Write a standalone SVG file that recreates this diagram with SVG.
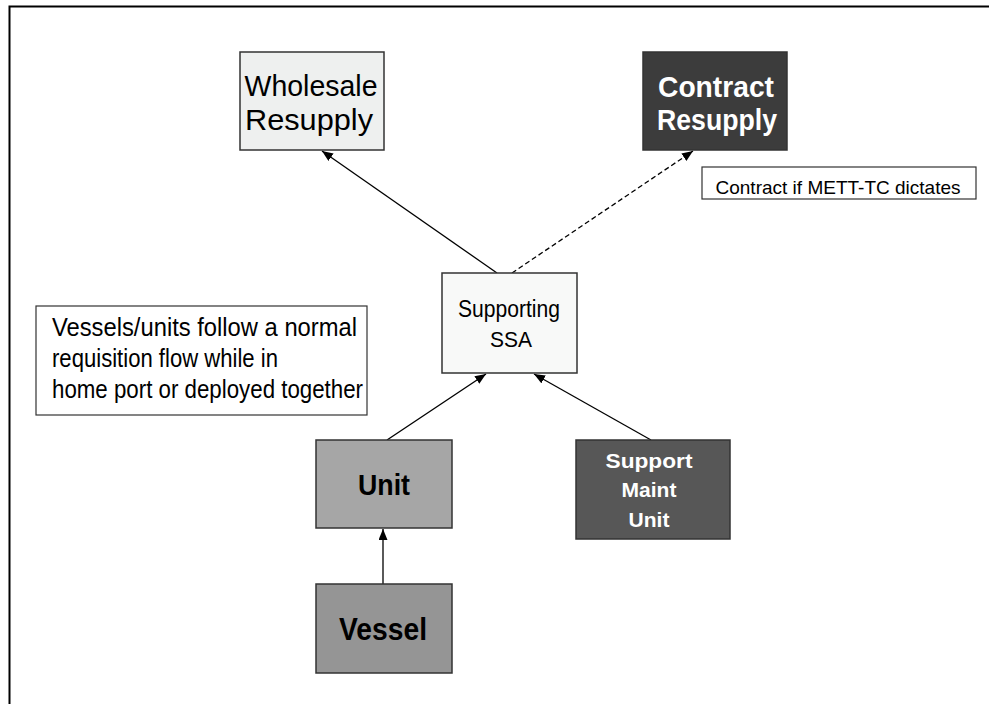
<svg xmlns="http://www.w3.org/2000/svg" width="989" height="704" viewBox="0 0 989 704">
<defs>
<style>
text{font-family:"Liberation Sans",Arial,sans-serif;text-anchor:middle}
.box{stroke:#333;stroke-width:1.5}
.b{font-weight:bold}
.w{fill:#fff}
.k{fill:#000}
.c{stroke:#000;stroke-width:1.3;fill:none}
.l{text-anchor:start}
</style>
<marker id="ah" markerUnits="userSpaceOnUse" markerWidth="12" markerHeight="10" refX="11" refY="4.5" orient="auto">
<path d="M0,0 L11,4.5 L0,9 z" fill="#000"/>
</marker>
</defs>
<rect width="989" height="704" fill="#fff"/>
<path d="M9.5,704 V6.5 H989" fill="none" stroke="#000" stroke-width="2"/>

<g id="connectors">
<line class="c" x1="497" y1="273" x2="322" y2="151" marker-end="url(#ah)"/>
<line class="c" x1="512" y1="273" x2="693" y2="151" stroke-dasharray="5,3" marker-end="url(#ah)"/>
<line class="c" x1="387" y1="440" x2="486" y2="374" marker-end="url(#ah)"/>
<line class="c" x1="651" y1="440" x2="534" y2="374" marker-end="url(#ah)"/>
<line class="c" x1="383" y1="584" x2="383" y2="529" stroke="#444" marker-end="url(#ah)"/>
</g>

<g id="wholesale">
<rect class="box" x="240" y="52" width="144" height="98" fill="#eef0ef"/>
<text x="311" y="96" font-size="30" textLength="133" lengthAdjust="spacingAndGlyphs" class="k">Wholesale</text>
<text x="309" y="130" font-size="30" textLength="128" lengthAdjust="spacingAndGlyphs" class="k">Resupply</text>
</g>

<g id="contract">
<rect class="box" x="643" y="52" width="144" height="98" fill="#3c3c3c"/>
<text x="716" y="97" font-size="30" textLength="116" lengthAdjust="spacingAndGlyphs" class="b w">Contract</text>
<text x="717" y="130" font-size="30" textLength="120" lengthAdjust="spacingAndGlyphs" class="b w">Resupply</text>
</g>

<g id="contract-note">
<rect x="702" y="167" width="274" height="32" fill="#fff" stroke="#333" stroke-width="1.2"/>
<text x="838" y="194" font-size="19" textLength="245" lengthAdjust="spacingAndGlyphs" class="k">Contract if METT-TC dictates</text>
</g>

<g id="ssa">
<rect class="box" x="442" y="273" width="135" height="100" fill="#f8f9f8"/>
<text x="509" y="317" font-size="23" textLength="102" lengthAdjust="spacingAndGlyphs" class="k">Supporting</text>
<text x="511" y="347" font-size="22" textLength="42" lengthAdjust="spacingAndGlyphs" class="k">SSA</text>
</g>

<g id="note">
<rect x="36" y="306" width="331" height="109" fill="#fff" stroke="#333" stroke-width="1.2"/>
<text x="52" y="336" font-size="26" textLength="305" lengthAdjust="spacingAndGlyphs" class="k l">Vessels/units follow a normal</text>
<text x="52" y="367" font-size="26" textLength="226" lengthAdjust="spacingAndGlyphs" class="k l">requisition flow while in</text>
<text x="52" y="398" font-size="26" textLength="311" lengthAdjust="spacingAndGlyphs" class="k l">home port or deployed together</text>
</g>

<g id="unit">
<rect class="box" x="316" y="440" width="136" height="88" fill="#a6a6a6"/>
<text x="384" y="495" font-size="30" textLength="52" lengthAdjust="spacingAndGlyphs" class="b k">Unit</text>
</g>

<g id="support-maint">
<rect class="box" x="576" y="440" width="154" height="99" fill="#575757"/>
<text x="649" y="468" font-size="21" textLength="87" lengthAdjust="spacingAndGlyphs" class="b w">Support</text>
<text x="649" y="497" font-size="21" class="b w">Maint</text>
<text x="649" y="527" font-size="21" class="b w">Unit</text>
</g>

<g id="vessel">
<rect class="box" x="316" y="584" width="136" height="89" fill="#959595"/>
<text x="383" y="640" font-size="31" textLength="88" lengthAdjust="spacingAndGlyphs" class="b k">Vessel</text>
</g>
</svg>
